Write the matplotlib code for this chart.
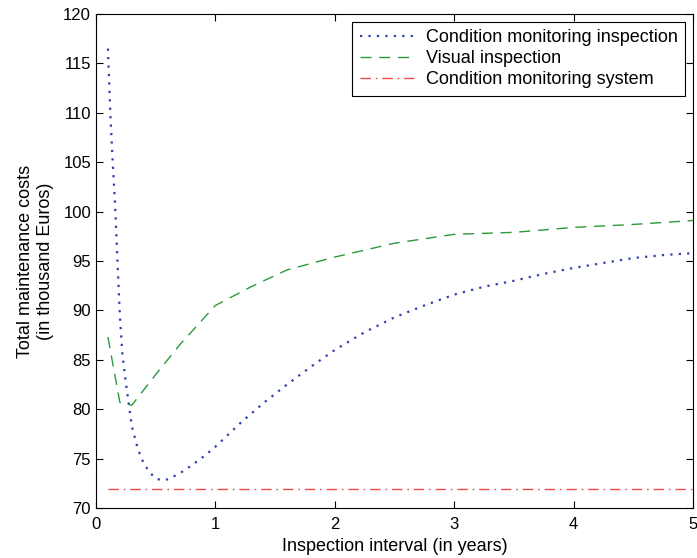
import numpy as np
import matplotlib.pyplot as plt

plt.rcParams['font.family'] = ['Liberation Sans', 'DejaVu Sans']

# inspection interval (years) and total costs (thousand Euros)
cm_x = [0.1, 0.12, 0.14, 0.16, 0.18, 0.2, 0.22, 0.25, 0.3, 0.35, 0.4, 0.45, 0.5, 0.55,
        0.6, 0.7, 0.8, 0.9, 1.0, 1.2, 1.4, 1.6, 1.8, 2.0, 2.25, 2.5, 2.75, 3.0, 3.25,
        3.5, 3.75, 4.0, 4.25, 4.5, 4.75, 5.0]
cm_y = [116.5, 110.0, 105.0, 100.7, 95.0, 89.5, 85.7, 82.7, 78.3, 76.0, 74.5, 73.6, 73.0, 72.8,
        72.9, 73.5, 74.3, 75.2, 76.2, 78.5, 80.6, 82.5, 84.3, 86.0, 87.8, 89.3, 90.5, 91.6, 92.4,
        93.0, 93.7, 94.3, 94.8, 95.3, 95.6, 95.8]

vis_x = [0.1, 0.2, 0.3, 0.5, 0.7, 1.0, 1.3, 1.6, 2.0, 2.5, 3.0, 3.5, 4.0, 4.5, 5.0]
vis_y = [87.3, 80.7, 80.4, 83.5, 86.5, 90.5, 92.4, 94.1, 95.4, 96.8, 97.7, 97.9, 98.4, 98.7, 99.1]

sys_x = [0.1, 5.0]
sys_y = [71.9, 71.9]

fig = plt.figure(figsize=(6.97, 5.58), dpi=100)
ax = fig.add_axes([0.1377, 0.0896, 0.8566, 0.8853])

ax.plot(cm_x, cm_y, ':', color='#2f3fae', lw=1.6, dashes=(1, 2.8),
        label='Condition monitoring inspection')
ax.plot(vis_x, vis_y, '--', color='#2a9a3a', lw=1.0, dashes=(8, 5.5), label='Visual inspection')
ax.plot(sys_x, sys_y, '-.', color='#ee4a4a', lw=1.0, dashes=(7.5, 3.5, 1.2, 3.5),
        label='Condition monitoring system')

ax.set_xlim(0, 5)
ax.set_ylim(70, 120)
ax.set_xticks(np.arange(0, 6, 1))
ax.set_yticks(np.arange(70, 121, 5))
ax.tick_params(direction='in', top=True, right=True, length=5, labelsize=12)
ax.tick_params(axis='x', pad=6.5)
for s in ax.spines.values():
    s.set_linewidth(0.8)

ax.set_xlabel('Inspection interval (in years)', fontsize=13, labelpad=4)
ax.set_ylabel('Total maintenance costs\n(in thousand Euros)', fontsize=13, labelpad=7)

leg = ax.legend(loc='upper right', fontsize=13, fancybox=False, framealpha=1,
                edgecolor='black', borderaxespad=0.45, handlelength=3.0,
                handletextpad=0.66, labelspacing=0.22, borderpad=0.4)
leg.get_frame().set_linewidth(0.8)

fig.savefig('out.png', dpi=100)
